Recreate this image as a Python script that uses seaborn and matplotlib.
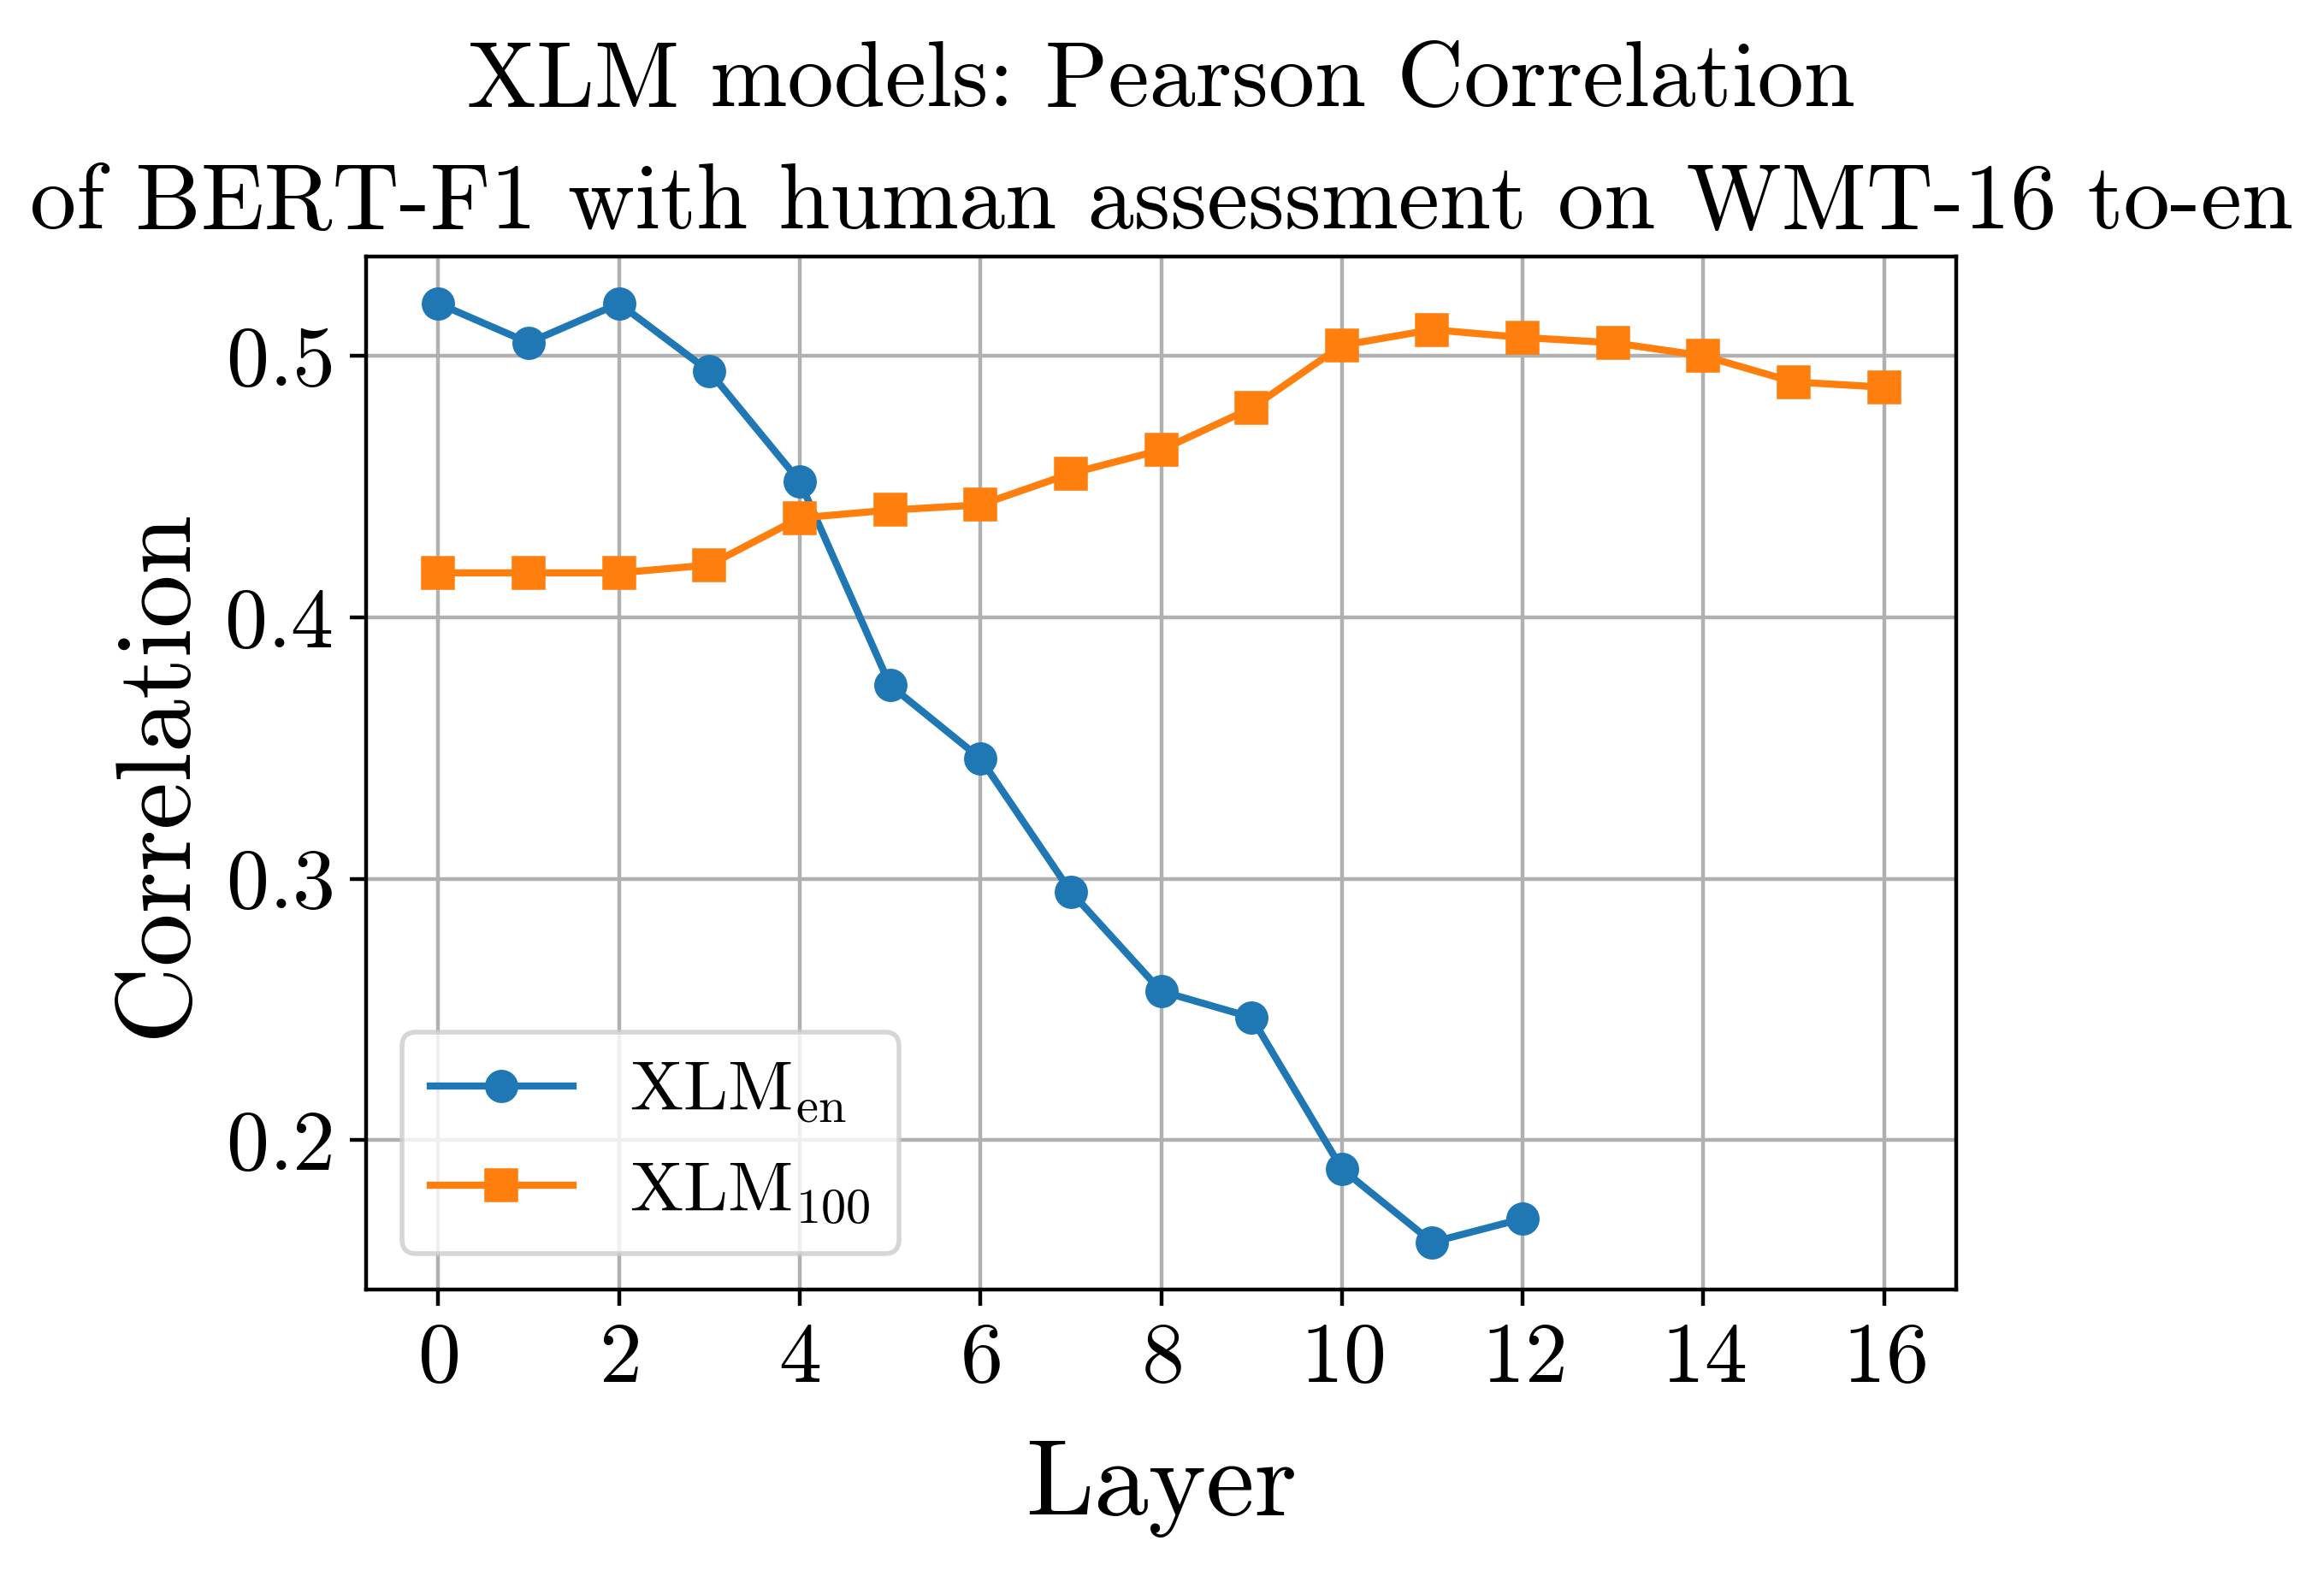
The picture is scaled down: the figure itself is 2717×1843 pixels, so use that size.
import numpy as np
import pandas as pd
import matplotlib
matplotlib.use("Agg")
import matplotlib.pyplot as plt
import seaborn as sns

# dados
layers_en = list(range(13))
corr_en = [0.520, 0.505, 0.520, 0.494, 0.452, 0.374, 0.346, 0.295, 0.257, 0.247, 0.189, 0.161, 0.170]
layers_100 = list(range(17))
corr_100 = [0.417, 0.417, 0.417, 0.420, 0.438, 0.441, 0.443, 0.455, 0.464, 0.480,
            0.504, 0.510, 0.507, 0.505, 0.500, 0.490, 0.488]

labels = [r"XLM$_{\rm en}$", r"XLM$_{100}$"]
colors = ["#1f77b4", "#ff7f0e"]

plt.rcParams["font.family"] = ["cmr10"]
plt.rcParams["mathtext.fontset"] = "cm"
plt.rcParams["axes.formatter.use_mathtext"] = True

fig, ax = plt.subplots(figsize=(2717 / 400, 1843 / 400), dpi=400)
fig.subplots_adjust(left=0.1575, right=0.8418, top=0.8372, bottom=0.182)

sns.lineplot(x=layers_en, y=corr_en, marker="o", color=colors[0], label=labels[0],
             linewidth=1.5, markersize=6, markeredgewidth=1,
             markeredgecolor=colors[0], ax=ax)
sns.lineplot(x=layers_100, y=corr_100, marker="s", color=colors[1], label=labels[1],
             linewidth=1.5, markersize=6, markeredgewidth=1,
             markeredgecolor=colors[1], ax=ax)

ax.grid(True, color="#b0b0b0", linewidth=0.8)
ax.set_axisbelow(True)
ax.set_xticks(range(0, 17, 2))
ax.set_yticks([0.2, 0.3, 0.4, 0.5])
ax.tick_params(labelsize=18)
ax.set_xlabel("Layer", fontsize=23, labelpad=9)
ax.set_ylabel("Correlation", fontsize=22.5)
ax.set_title("XLM models: Pearson Correlation\nof BERT-F1 with human assessment on WMT-16 to-en",
             fontsize=19.5, linespacing=1.6)
ax.legend(loc="lower left", fontsize=15)

fig.savefig("out.png", dpi=400)
